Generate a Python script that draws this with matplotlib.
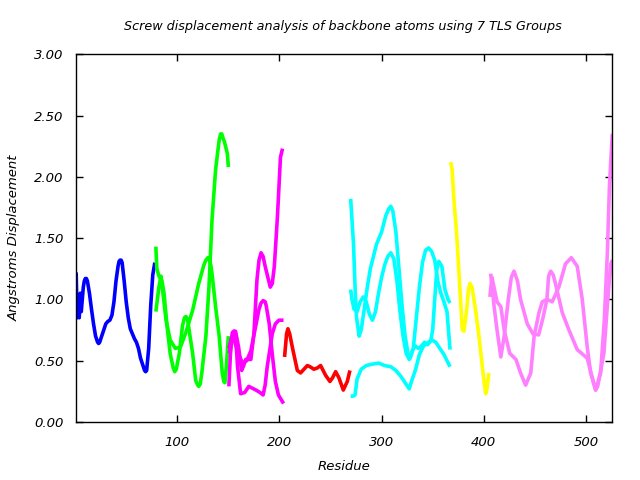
import matplotlib
matplotlib.use("Agg")
import matplotlib.pyplot as plt
from matplotlib.ticker import FormatStrFormatter

# TLS group 1 (blue)
blue_res = [1, 2, 3, 4, 5, 6, 8, 9, 10, 11, 12, 14, 16, 18, 20, 22, 23, 24, 26, 28, 30, 32, 34,
            36, 38, 40, 42, 43, 44, 45, 46, 48, 50, 52, 54, 56, 58, 60, 62, 64, 66, 68, 69,
            70, 72, 74, 76, 78]
blue_val = [1.22, 0.85, 1.0, 0.85, 1.05, 0.9, 1.1, 1.15, 1.17, 1.17, 1.15, 1.05, 0.92, 0.8,
            0.7, 0.65, 0.64, 0.65, 0.7, 0.75, 0.8, 0.82, 0.83, 0.87, 0.98, 1.15, 1.27, 1.31,
            1.32, 1.32, 1.3, 1.15, 0.98, 0.85, 0.76, 0.72, 0.68, 0.65, 0.6, 0.52, 0.47, 0.42,
            0.41, 0.42, 0.6, 0.95, 1.2, 1.3]

# TLS group 2 (green), two traces
green1_res = [79, 80, 82, 85, 87, 90, 93, 96, 97.5, 99, 102, 105, 107, 108.5, 110, 111, 115,
              118, 120, 121, 122.5, 124, 128, 131, 134, 137.5, 141, 142.5, 143.5, 145, 146,
              149, 150]
green1_val = [1.43, 1.25, 1.19, 1.15, 1.05, 0.78, 0.56, 0.44, 0.41, 0.43, 0.56, 0.78, 0.85,
              0.86, 0.84, 0.78, 0.56, 0.34, 0.30, 0.29, 0.31, 0.40, 0.70, 1.10, 1.65, 2.06,
              2.30, 2.35, 2.35, 2.31, 2.29, 2.19, 2.08]
green2_res = [79, 82, 84, 86, 89, 93, 98, 103, 108, 115, 121, 126, 128, 130, 131, 133, 134,
              137.5, 141, 144, 145.5, 146.6, 148, 150]
green2_val = [0.90, 1.10, 1.19, 1.05, 0.83, 0.67, 0.60, 0.61, 0.72, 0.91, 1.13, 1.28, 1.32,
              1.34, 1.34, 1.27, 1.21, 0.94, 0.70, 0.40, 0.33, 0.32, 0.45, 0.70]

# TLS group 3 (magenta), three traces
mag1_res = [151, 152.5, 154, 155.5, 157, 160, 162, 163, 165, 167, 172, 175, 178, 180, 182,
            184, 186, 191, 193, 195, 198, 201, 203]
mag1_val = [0.56, 0.66, 0.72, 0.74, 0.74, 0.61, 0.48, 0.42, 0.46, 0.51, 0.51, 0.72, 1.16,
            1.32, 1.38, 1.35, 1.27, 1.10, 1.13, 1.27, 1.67, 2.16, 2.23]
mag2_res = [150.5, 152, 154, 155.5, 157, 159, 162, 166, 170, 177, 181, 184, 186, 188, 193,
            196, 199.5, 204]
mag2_val = [0.29, 0.55, 0.73, 0.74, 0.72, 0.45, 0.23, 0.24, 0.29, 0.26, 0.24, 0.22, 0.30,
            0.45, 0.72, 0.80, 0.83, 0.83]
mag3_res = [150.5, 153, 156, 160, 164, 168, 172, 176, 180, 182, 184, 186, 187, 190, 193, 196,
            199, 204]
mag3_val = [0.60, 0.68, 0.66, 0.55, 0.48, 0.50, 0.58, 0.75, 0.92, 0.97, 0.99, 0.98, 0.95,
            0.80, 0.55, 0.33, 0.22, 0.15]

# TLS group 4 (red)
red_res = [205, 207, 208.3, 210, 212.6, 217.5, 220.7, 224, 227.3, 230, 233.7, 237, 240.3,
           245.2, 249.4, 252, 255, 258.2, 262.5, 266.4, 269]
red_val = [0.53, 0.72, 0.76, 0.72, 0.61, 0.42, 0.40, 0.43, 0.46, 0.45, 0.43, 0.44, 0.46,
           0.38, 0.33, 0.36, 0.41, 0.36, 0.26, 0.33, 0.42]

# TLS group 5 (cyan), three traces
cyan1_res = [269.7, 271, 272.5, 274, 275.5, 278, 280, 283, 286, 289, 292, 295, 300, 304, 307,
             309, 311, 314, 317, 320, 323, 326, 328, 331, 334, 337, 340, 343, 346, 349, 352,
             355, 358, 361, 364, 367]
cyan1_val = [1.82, 1.65, 1.45, 1.10, 0.85, 0.70, 0.75, 0.92, 1.10, 1.25, 1.35, 1.45, 1.55, 1.68,
             1.74, 1.76, 1.72, 1.55, 1.25, 0.95, 0.70, 0.55, 0.52, 0.60, 0.85, 1.10, 1.30, 1.40,
             1.42, 1.39, 1.32, 1.15, 1.05, 0.98, 0.90, 0.59]
cyan2_res = [269.7, 271, 273, 276, 279, 282, 285, 288, 291, 294, 297, 300, 303, 306, 309, 312,
             315, 318, 321, 324, 327, 330, 333, 336, 339, 342, 345, 348, 350, 352, 354, 356,
             359, 362, 365, 367]
cyan2_val = [1.08, 1.00, 0.92, 0.90, 0.98, 1.02, 0.98, 0.88, 0.83, 0.90, 1.05, 1.18, 1.28, 1.35,
             1.38, 1.33, 1.15, 0.90, 0.70, 0.56, 0.51, 0.58, 0.62, 0.60, 0.62, 0.65, 0.63, 0.66,
             0.75, 1.00, 1.24, 1.31, 1.27, 1.08, 1.00, 0.97]
cyan3_res = [269.7, 272, 274, 276, 280, 285, 290, 297, 303, 309, 314, 319, 323, 327, 330, 333,
             337, 341, 346, 349, 353, 357, 361, 364, 367]
cyan3_val = [0.21, 0.21, 0.22, 0.35, 0.43, 0.46, 0.47, 0.48, 0.46, 0.45, 0.42, 0.37, 0.32, 0.27,
             0.35, 0.42, 0.55, 0.62, 0.65, 0.67, 0.65, 0.60, 0.55, 0.50, 0.45]

# TLS group 6 (yellow)
yellow_res = [367.6, 369, 370.8, 373.4, 375, 376.7, 379, 380.6, 383.2, 385, 386.5, 388.5, 392,
              395.3, 398.6, 401.8, 403, 405]
yellow_val = [2.12, 2.06, 1.81, 1.54, 1.32, 1.08, 0.75, 0.74, 0.91, 1.08, 1.13, 1.10, 0.91,
              0.70, 0.45, 0.23, 0.26, 0.40]

# TLS group 7 (violet), two traces
violet1_res = [406.7, 408, 410, 413, 416.7, 420, 424, 427, 429.6, 433, 436, 442.6, 448, 453.7,
               458, 461.8, 463.5, 465.5, 468, 471, 476.9, 483.4, 491.5, 501.3, 505, 509.5,
               514.4, 518, 521, 523, 525.8]
violet1_val = [1.21, 1.12, 0.95, 0.75, 0.53, 0.70, 1.00, 1.18, 1.23, 1.15, 1.00, 0.80, 0.72,
               0.71, 0.85, 1.00, 1.19, 1.23, 1.20, 1.10, 0.89, 0.75, 0.59, 0.52, 0.40, 0.26,
               0.40, 0.83, 1.38, 1.92, 2.35]
violet2_res = [406, 408, 410, 413, 416.7, 420, 425.4, 431.5, 436, 441, 446, 449.3, 454, 457.3,
               462, 467, 473.5, 480, 485.7, 491.5, 496.4, 501.3, 504.6, 509.5, 511.5, 517.6,
               520.9, 524.2, 526]
violet2_val = [1.02, 1.18, 1.10, 0.98, 0.94, 0.75, 0.56, 0.51, 0.40, 0.30, 0.40, 0.70, 0.89,
               0.98, 1.00, 0.98, 1.10, 1.29, 1.34, 1.27, 1.00, 0.61, 0.40, 0.26, 0.29, 0.56,
               0.94, 1.29, 1.32]

series = [
    (blue_res, blue_val, "#0000ff"),
    (green1_res, green1_val, "#00ff00"),
    (green2_res, green2_val, "#00ff00"),
    (mag1_res, mag1_val, "#ff00ff"),
    (mag2_res, mag2_val, "#ff00ff"),
    (mag3_res, mag3_val, "#ff00ff"),
    (red_res, red_val, "#ff0000"),
    (cyan1_res, cyan1_val, "#00ffff"),
    (cyan2_res, cyan2_val, "#00ffff"),
    (cyan3_res, cyan3_val, "#00ffff"),
    (yellow_res, yellow_val, "#ffff00"),
    (violet1_res, violet1_val, "#ff80ff"),
    (violet2_res, violet2_val, "#ff80ff"),
]

fig, ax = plt.subplots(figsize=(6.4, 4.8), dpi=100)
fig.subplots_adjust(left=0.119, right=0.957, bottom=0.121, top=0.887)

for xs, ys, col in series:
    ax.plot(xs, ys, color=col, linewidth=2.6, solid_joinstyle="round",
            solid_capstyle="butt")

ax.set_xlim(1, 526)
ax.set_ylim(0, 3)
ax.set_xticks([100, 200, 300, 400, 500])
ax.set_yticks([0, 0.5, 1.0, 1.5, 2.0, 2.5, 3.0])
ax.yaxis.set_major_formatter(FormatStrFormatter("%.2f"))
ax.tick_params(direction="in", top=True, right=True, length=5, width=1,
               labelsize=9.5)
ax.tick_params(axis="x", pad=10)
ax.tick_params(axis="y", pad=9)
for lbl in ax.get_xticklabels() + ax.get_yticklabels():
    lbl.set_fontstyle("italic")
for sp in ax.spines.values():
    sp.set_linewidth(1)

ax.set_xlabel("Residue", fontsize=9.5, style="italic", labelpad=8)
ax.set_ylabel("Angstroms Displacement", fontsize=9.5, style="italic", labelpad=10)
fig.text(0.535, 0.944, "Screw displacement analysis of backbone atoms using 7 TLS Groups",
         ha="center", va="center", fontsize=9.2, style="italic")

fig.savefig("out.png", dpi=100)
